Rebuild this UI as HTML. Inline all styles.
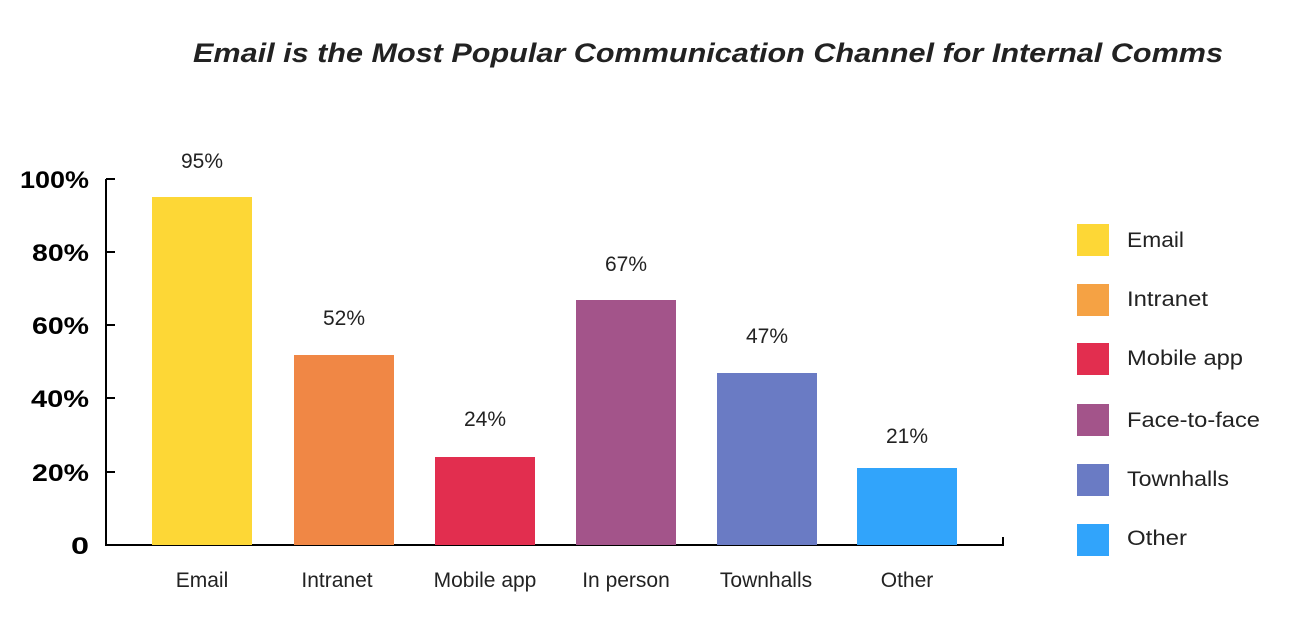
<!DOCTYPE html>
<html><head><meta charset="utf-8"><style>
body{margin:0;background:#fff;}
svg text{font-family:"Liberation Sans",sans-serif;}
</style></head><body>
<svg width="1305" height="634" xmlns="http://www.w3.org/2000/svg">
<text x="708" y="62" text-anchor="middle" font-size="27" font-style="italic" font-weight="600" fill="#222" textLength="1030" lengthAdjust="spacingAndGlyphs">Email is the Most Popular Communication Channel for Internal Comms</text>
<g font-size="24" font-weight="bold" fill="#000">
<text x="20" y="188" textLength="69" lengthAdjust="spacingAndGlyphs">100%</text>
<text x="32" y="261" textLength="57" lengthAdjust="spacingAndGlyphs">80%</text>
<text x="32" y="334" textLength="57" lengthAdjust="spacingAndGlyphs">60%</text>
<text x="31" y="407" textLength="58" lengthAdjust="spacingAndGlyphs">40%</text>
<text x="32" y="481" textLength="57" lengthAdjust="spacingAndGlyphs">20%</text>
<text x="71" y="554" textLength="18" lengthAdjust="spacingAndGlyphs">0</text>
</g>
<g stroke="#000" stroke-width="2" fill="none">
<path d="M106 179V545H1003V537"/>
<path d="M106 179h9M106 252h9M106 325h9M106 398h9M106 472h9"/>
</g>
<rect x="152" y="197" width="100" height="348" fill="#fdd736"/>
<rect x="294" y="355" width="100" height="190" fill="#f08745"/>
<rect x="435" y="457" width="100" height="88" fill="#e22e4f"/>
<rect x="576" y="300" width="100" height="245" fill="#a3548a"/>
<rect x="717" y="373" width="100" height="172" fill="#6a7bc4"/>
<rect x="857" y="468" width="100" height="77" fill="#31a4fb"/>
<g font-size="21" fill="#222" text-anchor="middle">
<text x="202" y="168">95%</text><text x="344" y="325">52%</text><text x="485" y="426">24%</text>
<text x="626" y="271">67%</text><text x="767" y="343">47%</text><text x="907" y="443">21%</text>
<text x="202" y="587">Email</text><text x="337" y="587">Intranet</text><text x="485" y="587">Mobile app</text>
<text x="626" y="587">In person</text><text x="766" y="587">Townhalls</text><text x="907" y="587">Other</text>
</g>
<rect x="1077" y="224" width="32" height="32" fill="#fdd736"/>
<rect x="1077" y="284" width="32" height="32" fill="#f5a244"/>
<rect x="1077" y="343" width="32" height="32" fill="#e22e4f"/>
<rect x="1077" y="404" width="32" height="32" fill="#a3548a"/>
<rect x="1077" y="464" width="32" height="32" fill="#6a7bc4"/>
<rect x="1077" y="524" width="32" height="32" fill="#31a4fb"/>
<g font-size="21" fill="#222">
<text x="1127" y="247" textLength="57" lengthAdjust="spacingAndGlyphs">Email</text>
<text x="1127" y="306" textLength="81" lengthAdjust="spacingAndGlyphs">Intranet</text>
<text x="1127" y="365" textLength="116" lengthAdjust="spacingAndGlyphs">Mobile app</text>
<text x="1127" y="427" textLength="133" lengthAdjust="spacingAndGlyphs">Face-to-face</text>
<text x="1127" y="486" textLength="102" lengthAdjust="spacingAndGlyphs">Townhalls</text>
<text x="1127" y="545" textLength="60" lengthAdjust="spacingAndGlyphs">Other</text>
</g>
</svg>
</body></html>
